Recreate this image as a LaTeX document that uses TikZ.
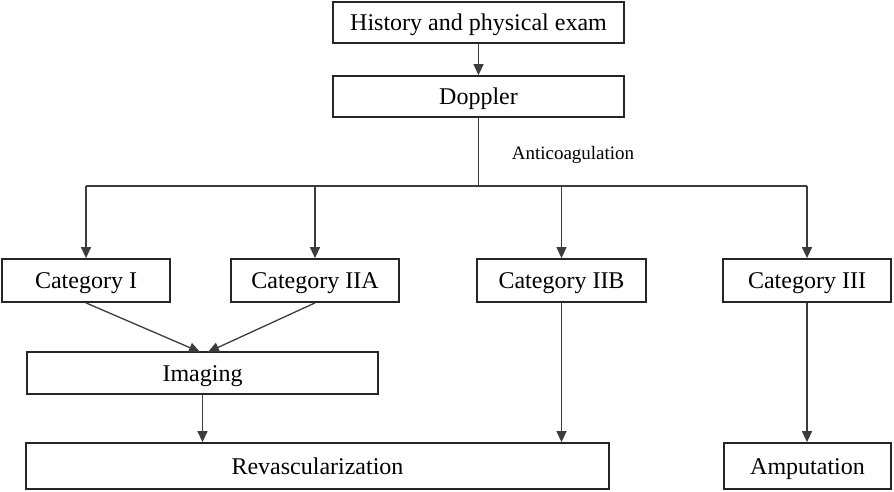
\documentclass[tikz,border=0pt]{standalone}
\usepackage{fontspec}
\setmainfont{Liberation Serif}
\usetikzlibrary{arrows.meta}
\definecolor{linec}{HTML}{3C3C3C}
\begin{document}
\begin{tikzpicture}[x=1pt,y=-1pt,
  box/.style={draw=black!85, line width=1.8pt, rectangle, inner sep=0pt, align=center,
    text height=19pt, text depth=3pt,
    font=\fontsize{24}{28}\selectfont},
  conn/.style={draw=linec, line width=1.3pt},
  arr/.style={conn, -{Triangle[length=11pt,width=10pt]}},
  lbl/.style={font=\fontsize{19}{22}\selectfont, inner sep=0pt}]
\useasboundingbox (0,0) rectangle (894,491);
\node[box, minimum width=291pt, minimum height=41pt] (hist) at (478.5,22.5) {History and physical exam};
\node[box, minimum width=291pt, minimum height=41pt] (dop) at (478.5,96.5) {Doppler};
\node[lbl] (anti) at (573,155) {Anticoagulation};
\node[box, minimum width=168pt, minimum height=43pt] (c1) at (86,280.5) {Category I};
\node[box, minimum width=168pt, minimum height=43pt] (c2a) at (315,280.5) {Category IIA};
\node[box, minimum width=169pt, minimum height=43pt] (c2b) at (561.5,280.5) {Category IIB};
\node[box, minimum width=168pt, minimum height=43pt] (c3) at (807,280.5) {Category III};
\node[box, minimum width=351pt, minimum height=42pt] (img) at (202.5,373) {Imaging};
\node[box, minimum width=583pt, minimum height=46pt] (rev) at (317.5,466) {Revascularization};
\node[box, minimum width=167pt, minimum height=46pt] (amp) at (807.5,466) {Amputation};
\coordinate (jc) at (478.5,186);
\coordinate (j1) at (86,186);
\coordinate (j2) at (315,186);
\coordinate (j3) at (561.5,186);
\coordinate (j4) at (807,186);
\coordinate (i1) at (200,352);
\coordinate (i2) at (208,352);
\draw[arr] (hist) -- (dop);
\draw[conn] (dop.south) -- (jc);
\draw[conn] (j1) -- (j4);
\draw[arr] (j1) -- (c1.north);
\draw[arr] (j2) -- (c2a.north);
\draw[arr] (j3) -- (c2b.north);
\draw[arr] (j4) -- (c3.north);
\draw[arr] (c1.south) -- (i1);
\draw[arr] (c2a.south) -- (i2);
\draw[arr] (img.south) -- (img.south |- rev.north);
\draw[arr] (c2b.south) -- (c2b.south |- rev.north);
\draw[arr] (c3.south) -- (c3.south |- amp.north);
\end{tikzpicture}
\end{document}
